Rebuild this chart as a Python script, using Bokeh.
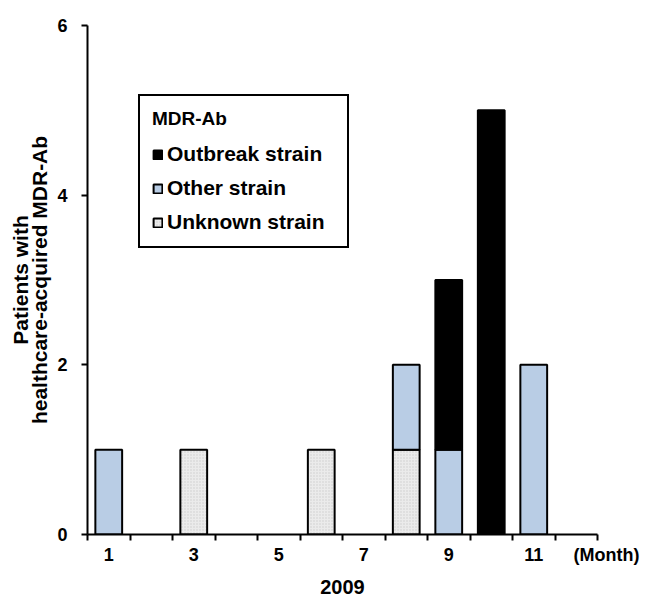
from bokeh.plotting import figure
from bokeh.models import (Range1d, LinearAxis, FixedTicker, Legend, LegendItem,
                          ColumnDataSource)
from bokeh.embed import file_html
from bokeh.resources import INLINE

# ---- data ----
months = [1, 2, 3, 4, 5, 6, 7, 8, 9, 10, 11, 12]
outbreak = [0, 0, 0, 0, 0, 0, 0, 0, 2, 5, 0, 0]
other = [1, 0, 0, 0, 0, 0, 0, 1, 1, 0, 2, 0]
unknown = [0, 0, 1, 0, 0, 1, 0, 1, 0, 0, 0, 0]
series_names = ["Unknown strain", "Other strain", "Outbreak strain"]   # bottom -> top
y_ticks = [0, 2, 4, 6]
x_label_months = [1, 3, 5, 7, 9, 11]
legend_title = "MDR-Ab"
y_title = "Patients with\nhealthcare-acquired MDR-Ab"
x_unit_text = "(Month)"
year_text = "2009"

FONT = "Liberation Sans"
colors = ["#ebebeb", "#b9cde5", "#000000"]

x_boundaries = [m - 0.5 for m in months] + [months[-1] + 0.5]
x_end = months[-1] + 0.5

p = figure(width=650, height=606,
           x_range=Range1d(months[0] - 0.5, x_end),
           y_range=Range1d(y_ticks[0], y_ticks[-1]),
           output_backend="svg", toolbar_location=None,
           x_axis_location=None, y_axis_location=None,
           min_border_left=87, min_border_right=53,
           min_border_top=25, min_border_bottom=72)
p.outline_line_color = None
p.xgrid.visible = False
p.ygrid.visible = False
p.background_fill_color = "white"
p.border_fill_color = "white"

# stacked bars (bottom/top derived from the series, zero-height segments skipped)
renderers = []
base = [0] * len(months)
for vals, name, col in zip([unknown, other, outbreak], series_names, colors):
    xs, bots, tops = [], [], []
    for i, v in enumerate(vals):
        if v:
            xs.append(months[i]); bots.append(base[i]); tops.append(base[i] + v)
        base[i] += v
    src = ColumnDataSource(dict(x=xs, bottom=bots, top=tops))
    r = p.vbar(x="x", bottom="bottom", top="top", width=0.63, source=src,
               fill_color=col, line_color="black", line_width=2)
    renderers.append(r)
renderers[0].glyph.hatch_pattern = "dot"
renderers[0].glyph.hatch_color = "#cccccc"
renderers[0].glyph.hatch_scale = 3
renderers[0].glyph.hatch_weight = 1

# y axis
yax = LinearAxis(ticker=FixedTicker(ticks=y_ticks, minor_ticks=[]))
yax.axis_line_width = 2
yax.major_tick_line_width = 2
yax.major_tick_in = 0
yax.major_tick_out = 6
yax.minor_tick_out = 0
yax.minor_tick_in = 0
yax.major_label_standoff = 14
yax.major_label_text_font = FONT
yax.major_label_text_font_style = "bold"
yax.major_label_text_font_size = "18px"
yax.major_label_text_color = "black"
yax.axis_label = y_title
yax.axis_label_text_font = FONT
yax.axis_label_text_font_style = "bold"
yax.axis_label_text_font_size = "21px"
yax.axis_label_text_color = "black"
yax.axis_label_text_line_height = 0.86
yax.axis_label_standoff = 3
p.add_layout(yax, "left")

# x axis
xax = LinearAxis(ticker=FixedTicker(ticks=x_label_months + [x_end],
                                    minor_ticks=x_boundaries))
xax.major_label_overrides = {x_end: "\u2003" + x_unit_text}
xax.axis_line_width = 2
xax.major_tick_line_color = None
xax.major_tick_in = 0
xax.major_tick_out = 0
xax.minor_tick_line_width = 2
xax.minor_tick_line_color = "black"
xax.minor_tick_in = 0
xax.minor_tick_out = 6
xax.major_label_standoff = 4
xax.major_label_text_font = FONT
xax.major_label_text_font_style = "bold"
xax.major_label_text_font_size = "18px"
xax.major_label_text_color = "black"
xax.axis_label = year_text
xax.axis_label_text_font = FONT
xax.axis_label_text_font_style = "bold"
xax.axis_label_text_font_size = "20px"
xax.axis_label_text_color = "black"
xax.axis_label_standoff = 12
p.add_layout(xax, "below")

# legend
items = [LegendItem(label=series_names[i], renderers=[renderers[i]]) for i in [2, 1, 0]]
legend = Legend(items=items, title=legend_title, location=(51, 286))
legend.title_text_font = FONT
legend.title_text_font_style = "bold"
legend.title_text_font_size = "19px"
legend.title_text_color = "black"
legend.title_standoff = 12
legend.label_text_font = FONT
legend.label_text_font_style = "bold"
legend.label_text_font_size = "21px"
legend.label_text_color = "black"
legend.glyph_width = 11
legend.glyph_height = 11
legend.label_standoff = 4
legend.label_height = 22
legend.label_width = 168
legend.spacing = 10
legend.padding = 12
legend.margin = 0
legend.border_line_color = "black"
legend.border_line_width = 2
legend.border_line_alpha = 1
legend.background_fill_alpha = 1
p.add_layout(legend, "center")

open("out.html", "w").write(file_html(p, INLINE))
